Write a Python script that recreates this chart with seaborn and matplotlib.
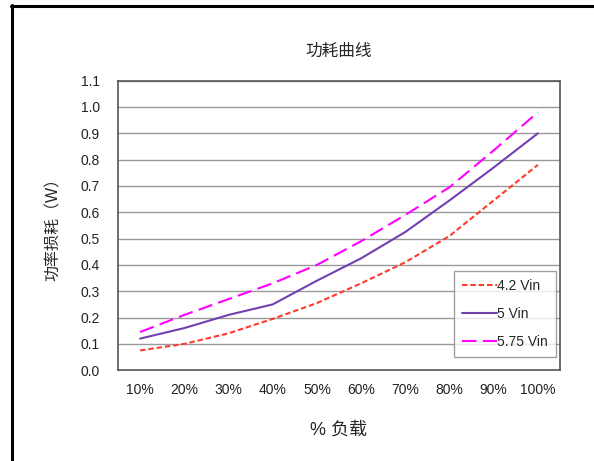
import numpy as np
import pandas as pd
import matplotlib
matplotlib.use("Agg")
import matplotlib.pyplot as plt
from matplotlib.lines import Line2D
import seaborn as sns

# Chart data
loads = ["10%", "20%", "30%", "40%", "50%", "60%", "70%", "80%", "90%", "100%"]
vin_42 = [0.075, 0.10, 0.14, 0.195, 0.255, 0.33, 0.41, 0.51, 0.645, 0.78]
vin_5 = [0.12, 0.16, 0.21, 0.25, 0.34, 0.425, 0.525, 0.645, 0.77, 0.90]
vin_575 = [0.145, 0.21, 0.27, 0.33, 0.40, 0.49, 0.59, 0.695, 0.835, 0.98]
series_names = ["4.2 Vin", "5 Vin", "5.75 Vin"]
y_ticks = [0.0, 0.1, 0.2, 0.3, 0.4, 0.5, 0.6, 0.7, 0.8, 0.9, 1.0, 1.1]

sns.set_theme(style="white")
plt.rcParams['font.family'] = ['Liberation Sans', 'Noto Sans CJK SC', 'DejaVu Sans']

# long-form table for seaborn
idx = np.arange(len(loads))
df = pd.DataFrame({
    "pos": np.tile(idx, 3),
    "loss": vin_42 + vin_5 + vin_575,
    "series": np.repeat(series_names, len(loads)),
})

fig = plt.figure(figsize=(5.94, 4.61), dpi=100)
ax = fig.add_axes([0.1987, 0.197, 0.744, 0.628])

palette = {"4.2 Vin": "#FF3B30", "5 Vin": "#7340B0", "5.75 Vin": "#FF00FF"}
dashes = {"4.2 Vin": (2.6, 1.4), "5 Vin": "", "5.75 Vin": (7, 3)}
sns.lineplot(data=df, x="pos", y="loss", hue="series", style="series",
             palette=palette, dashes=dashes, linewidth=1.5, ax=ax)

ax.set_xlim(-0.5, len(loads) - 0.5)
ax.set_ylim(0, 1.1)
ax.set_yticks(y_ticks)
ax.set_yticklabels([f"{v:.1f}" for v in y_ticks], fontsize=10, color="#222222")
ax.set_xticks(idx)
ax.set_xticklabels(loads, fontsize=10, color="#222222")
ax.set_xticks(idx[:-1] + 0.5, minor=True)
ax.tick_params(axis="x", which="major", length=0, pad=9)
ax.tick_params(axis="x", which="minor", direction="in", length=4, color="#555555", width=0.8)
ax.tick_params(axis="y", which="major", direction="out", length=3, color="#555555", width=0.8, pad=10)

ax.yaxis.grid(True, color="#999999", linewidth=1)
ax.xaxis.grid(False)
for s in ax.spines.values():
    s.set_visible(True)
    s.set_color("#555555")
    s.set_linewidth(1.2)

ax.set_title("功耗曲线", fontsize=12, pad=18)
ax.set_xlabel("% 负载", fontsize=13, labelpad=18)
ax.set_ylabel("功率损耗（W）", fontsize=11.5, labelpad=14)

leg = ax.legend(loc="lower right", bbox_to_anchor=(0.991, 0.045), fontsize=10,
                frameon=True, fancybox=False, edgecolor="#888888",
                handlelength=2.5, handletextpad=0.0, labelspacing=1.0,
                borderpad=0.6, borderaxespad=0)
leg.get_frame().set_linewidth(1)

# page frame at left and top
fig.add_artist(Line2D([11.5 / 594, 11.5 / 594], [0, 1 - 5 / 461], transform=fig.transFigure,
                      color="black", linewidth=2.2))
fig.add_artist(Line2D([11 / 594, 1], [1 - 6 / 461, 1 - 6 / 461], transform=fig.transFigure,
                      color="black", linewidth=2.2))

fig.savefig("out.png", dpi=100)
